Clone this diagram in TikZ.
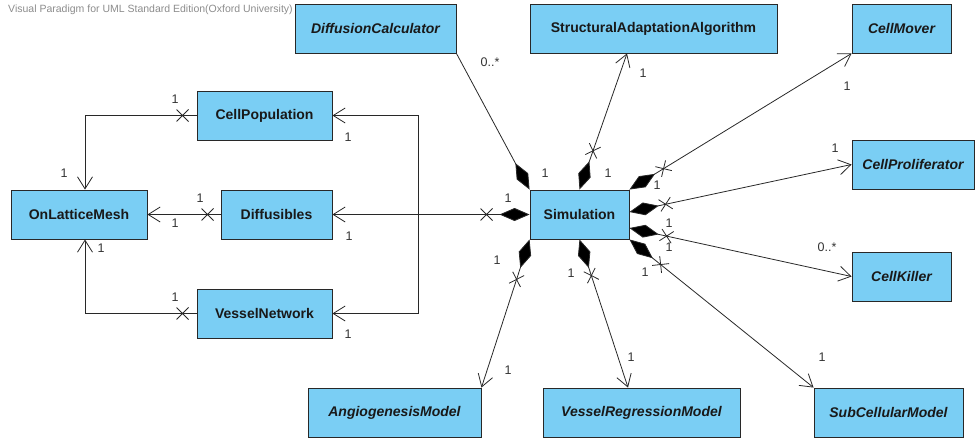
\documentclass[tikz,border=0pt]{standalone}
\usepackage{fontspec}
\setmainfont{Liberation Sans}
\usetikzlibrary{arrows.meta,decorations.markings}

\definecolor{classblue}{RGB}{122,206,244}
\definecolor{linegray}{RGB}{40,40,40}

\begin{document}
\begin{tikzpicture}[x=1pt,y=-1pt,
    umlclass/.style={draw=linegray,line width=0.9pt,fill=classblue,minimum height=49pt,inner sep=0pt,
        text=black!90,font=\fontsize{14}{16}\selectfont\bfseries},
    abstract/.style={umlclass,font=\fontsize{14}{16}\selectfont\bfseries\itshape},
    assoc/.style={draw=linegray,line width=0.8pt},
    nav/.style={assoc,-{Straight Barb[length=12pt,width=15pt]}},
    comp/.style={assoc,{Diamond[length=30pt,width=13pt,fill=black]}-},
    compnav/.style={assoc,{Diamond[length=30pt,width=13pt,fill=black]}-{Straight Barb[length=12pt,width=15pt]}},
    xat/.style={postaction={decorate,decoration={markings,
        mark=at position #1 with {\draw[-,linegray,line width=0.8pt] (-6pt,-6pt) -- (6pt,6pt) (-6pt,6pt) -- (6pt,-6pt);}}}},
    mult/.style={font=\fontsize{12.5}{14}\selectfont,text=black!80,inner sep=0pt}]
\useasboundingbox (0,0) rectangle (980,439);

\node[anchor=west,text=black!45,font=\fontsize{10.5}{12}\selectfont,inner sep=0pt] (vpnote) at (8,10)
    {Visual Paradigm for UML Standard Edition(Oxford University)};

% classes
\node[abstract,minimum width=161pt] (dc) at (375.5,28.5) {DiffusionCalculator};
\node[umlclass,minimum width=247pt] (saa) at (653.5,28.5) {StructuralAdaptationAlgorithm};
\node[abstract,minimum width=99pt] (cmov) at (901.5,28.5) {CellMover};
\node[umlclass,minimum width=135pt] (cpop) at (264.5,115.5) {CellPopulation};
\node[abstract,minimum width=122pt] (cpro) at (913,164.5) {CellProliferator};
\node[umlclass,minimum width=136pt] (mesh) at (79,214.5) {OnLatticeMesh};
\node[umlclass,minimum width=111pt] (dif) at (276.5,214.5) {Diffusibles};
\node[umlclass,minimum width=99pt] (sim) at (579.5,214.5) {Simulation};
\node[abstract,minimum width=99pt] (ckil) at (901.5,276.5) {CellKiller};
\node[umlclass,minimum width=135pt] (vnet) at (264.5,313.5) {VesselNetwork};
\node[abstract,minimum width=173pt] (agm) at (394.5,412.5) {AngiogenesisModel};
\node[abstract,minimum width=197pt] (vrm) at (641.5,412.5) {VesselRegressionModel};
\node[abstract,minimum width=149pt] (scm) at (888.5,412.5) {SubCellularModel};

% compositions from Simulation
\draw[comp] (sim.north west) -- (dc.south east);
\draw[compnav,xat=41pt] (sim.north) -- ([xshift=-26.5pt]saa.south);
\draw[compnav,xat=40pt] (sim.north east) -- (cmov.south west);
\draw[compnav,xat=37pt] ([yshift=2.5pt]sim.east) -- (cpro.west);
\draw[compnav,xat=38pt] ([yshift=-13.5pt]sim.east) -- (ckil.west);
\draw[compnav,xat=40pt] (sim.south east) -- (scm.north west);
\draw[compnav,xat=38pt] (sim.south) -- ([xshift=-13.5pt]vrm.north);
\draw[compnav,xat=42pt] (sim.south west) -- (agm.north east);
\draw[compnav,xat=43pt] (sim.west) -- (dif.east);
\coordinate (fork) at (418,214.5);
\draw[nav] (fork) |- (cpop.east);
\draw[nav] (fork) |- (vnet.east);

% links to the mesh
\draw[nav,xat=14pt] (cpop.west) -| ([xshift=6pt]mesh.north);
\draw[nav,xat=13pt] (dif.west) -- (mesh.east);
\draw[nav,xat=14pt] (vnet.west) -| ([xshift=6pt]mesh.south);

% multiplicities
\foreach \x/\y/\t [count=\i] in {490/62/{0..*}, 545/173/1, 643/73/1, 608/173/1, 847/86/1,
    657/185/1, 835/148/1, 669/223/1, 827/247/{0..*}, 669/247/1, 822/357/1, 645/272/1,
    631/357/1, 571/273/1, 508/370/1, 497/260/1, 508/198/1, 349/236/1, 348/137/1,
    348/334/1, 175/99/1, 64/173/1, 200/198/1, 175/223/1, 101/248/1, 175/297/1}{
    \node[mult] (m\i) at (\x,\y) {\t};
}
\end{tikzpicture}
\end{document}
